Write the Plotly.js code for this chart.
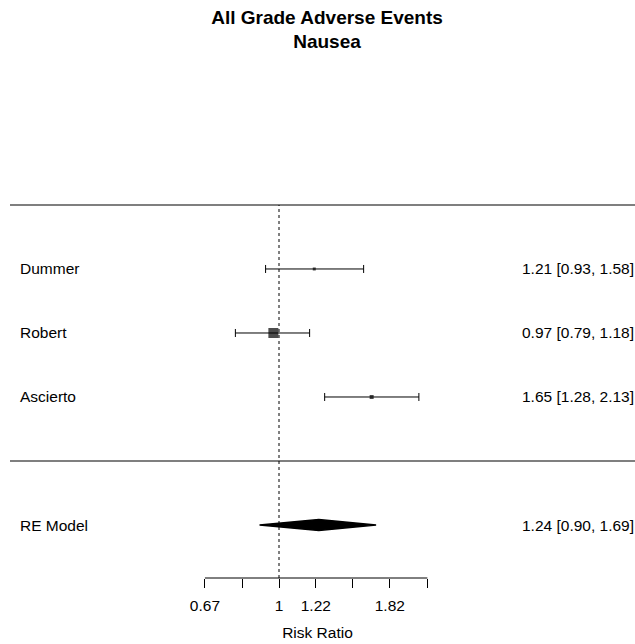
<!DOCTYPE html>
<html>
<head>
<meta charset="utf-8">
<script src="https://cdn.plot.ly/plotly-3.0.1.min.js"></script>
<style>html,body{margin:0;padding:0;background:#fff;}#chart{width:635px;height:644px;}</style>
</head>
<body>
<div id="chart"></div>
<script>
// ---- data ----
const studies = ["Dummer", "Robert", "Ascierto"];
const rr      = [1.21, 0.97, 1.65];
const lower   = [0.93, 0.79, 1.28];
const upper   = [1.58, 1.18, 2.13];
const studyRows = [3, 2, 1];

const modelLabel = "RE Model";
const modelRR = 1.24;
const modelLower = 0.90;
const modelUpper = 1.69;
const modelRow = -1;

const tickVals = [0.67, 0.82, 1, 1.22, 1.49, 1.82, 2.23];
const tickText = ["0.67", "", "1", "1.22", "", "1.82", ""];

const titleText = "All Grade Adverse Events<br>Nausea";
const xTitle = "Risk Ratio";

// ---- styles ----
const FONT = "Liberation Sans, Arial, sans-serif";
const markerPx = [3, 10, 4];
const diamondHalf = 0.085;

const fmt = v => v.toFixed(2);

const traces = [];
traces.push({
  type: "scatter", mode: "markers",
  x: rr, y: studyRows,
  marker: {symbol: "square", size: markerPx, color: "black", line: {width: 0}},
  error_x: {
    type: "data", symmetric: false,
    array: upper.map((u, i) => u - rr[i]),
    arrayminus: lower.map((l, i) => rr[i] - l),
    color: "black", thickness: 1, width: 4
  },
  hoverinfo: "skip", showlegend: false
});
traces.push({
  type: "scatter", mode: "lines",
  x: [modelLower, modelRR, modelUpper, modelRR, modelLower],
  y: [modelRow, modelRow + diamondHalf, modelRow, modelRow - diamondHalf, modelRow],
  fill: "toself", fillcolor: "black",
  line: {color: "black", width: 1.5},
  hoverinfo: "skip", showlegend: false
});

const annotations = [];
const txtFont = {size: 15.5, color: "black", family: FONT};
studies.forEach((s, i) => {
  annotations.push({xref: "paper", yref: "y", x: 18/635, y: studyRows[i], text: s,
    xanchor: "left", yanchor: "middle", showarrow: false, font: txtFont});
  annotations.push({xref: "paper", yref: "y", x: 636/635, y: studyRows[i],
    text: fmt(rr[i]) + " [" + fmt(lower[i]) + ", " + fmt(upper[i]) + "]",
    xanchor: "right", yanchor: "middle", showarrow: false, font: txtFont});
});
annotations.push({xref: "paper", yref: "y", x: 18/635, y: modelRow, text: modelLabel,
  xanchor: "left", yanchor: "middle", showarrow: false, font: txtFont});
annotations.push({xref: "paper", yref: "y", x: 636/635, y: modelRow,
  text: fmt(modelRR) + " [" + fmt(modelLower) + ", " + fmt(modelUpper) + "]",
  xanchor: "right", yanchor: "middle", showarrow: false, font: txtFont});

const shapes = [
  {type: "line", xref: "paper", yref: "y", x0: 10/635, x1: 1, y0: 4, y1: 4, line: {color: "#555", width: 1.3}},
  {type: "line", xref: "paper", yref: "y", x0: 10/635, x1: 1, y0: 0, y1: 0, line: {color: "#555", width: 1.3}},
  {type: "line", xref: "x", yref: "y", x0: 1, x1: 1, y0: -1.828, y1: 4,
   line: {color: "black", width: 1, dash: "dot"}},
  {type: "line", xref: "x", yref: "paper", x0: tickVals[0], x1: tickVals[tickVals.length-1], y0: 0, y1: 0,
   line: {color: "black", width: 1}}
];

const layout = {
  width: 635, height: 644,
  margin: {l: 0, r: 0, t: 190, b: 66},
  paper_bgcolor: "white", plot_bgcolor: "white",
  font: {family: FONT, color: "black"},
  title: {text: titleText, x: 327/635, xanchor: "center", xref: "paper",
    y: 0.9635, yref: "container", yanchor: "top",
    font: {size: 19, family: FONT, color: "black", weight: "bold"}},
  xaxis: {
    type: "log",
    range: [-0.65497, 0.83572],
    tickmode: "array", tickvals: tickVals, ticktext: tickText,
    ticks: "outside", ticklen: 9, tickwidth: 1, tickcolor: "black",
    ticklabelstandoff: 4,
    showline: false, showgrid: false, zeroline: false,
    tickfont: txtFont,
    title: {text: xTitle, font: txtFont, standoff: 14},
    fixedrange: true
  },
  yaxis: {range: [-1.828, 4.234], visible: false, fixedrange: true},
  shapes: shapes,
  annotations: annotations,
  showlegend: false
};

Plotly.newPlot("chart", traces, layout, {displayModeBar: false, staticPlot: true});
</script>
</body>
</html>
